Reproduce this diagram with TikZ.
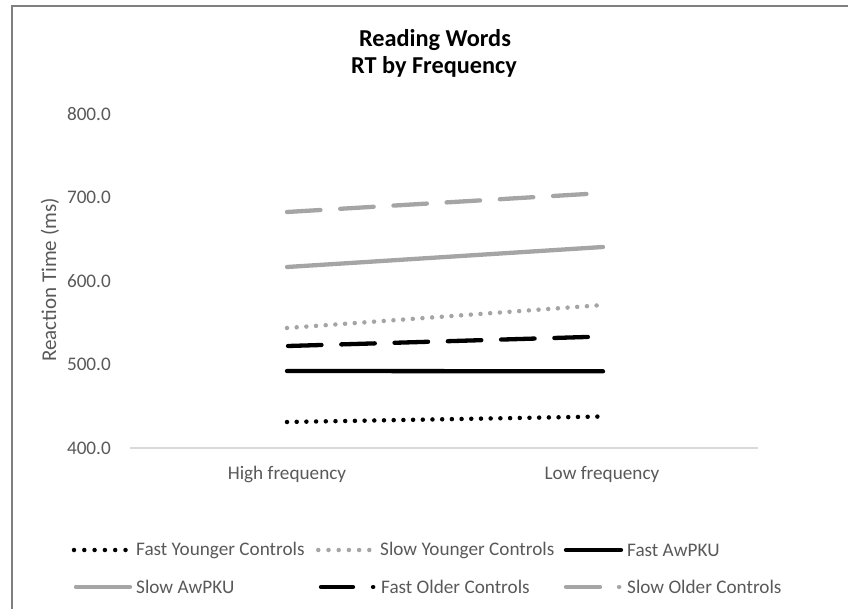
\documentclass[tikz,border=0pt]{standalone}
\usepackage{fontspec}
\setmainfont{Carlito}
\definecolor{txtgray}{HTML}{595959}
\definecolor{lngray}{HTML}{A5A5A5}
\definecolor{axgray}{HTML}{D9D9D9}
\definecolor{framegray}{HTML}{7F7F7F}
\tikzset{
  ser/.style={line width=4.3pt, line cap=round},
  blkser/.style={ser, draw=black},
  gryser/.style={ser, draw=lngray},
  dotser/.style={line width=4.5pt, line cap=round, dash pattern=on 0pt off 9.7pt},
  dashser/.style={dash pattern=on 33.5pt off 19.8pt},
  ticklab/.style={font=\fontsize{19.2}{19}\selectfont, text=txtgray, inner sep=0pt, anchor=east},
  catlab/.style={font=\fontsize{19.2}{19}\selectfont, text=txtgray, inner sep=0pt, anchor=base},
  leglab/.style={font=\fontsize{19.2}{19}\selectfont, text=txtgray, inner sep=0pt, anchor=west},
}
\begin{document}
\begin{tikzpicture}[x=1pt,y=-1pt]
\useasboundingbox (0,0) rectangle (848,609);
% frame (top and left edges visible)
\draw[framegray, line width=1.5pt] (12,609) -- (12,6) -- (848,6);

% title
\node[font=\bfseries\fontsize{24.3}{27}\selectfont, anchor=base, inner sep=0pt] (t1) at (435,47) {Reading Words};
\node[font=\bfseries\fontsize{24.3}{27}\selectfont, anchor=base, inner sep=0pt] (t2) at (434,74) {RT by Frequency};

% y tick labels
\node[ticklab] (y800) at (111,114) {800.0};
\node[ticklab] (y700) at (111,197.5) {700.0};
\node[ticklab] (y600) at (111,281) {600.0};
\node[ticklab] (y500) at (111,364.5) {500.0};
\node[ticklab] (y400) at (111,448) {400.0};

% y axis title
\node[font=\fontsize{21}{21}\selectfont, text=txtgray, rotate=90, inner sep=0pt] (ytitle) at (50,280) {Reaction Time (ms)};

% x axis
\coordinate (axL) at (130,448);
\coordinate (axR) at (758,448);
\draw[axgray, line width=1.5pt] (axL) -- (axR);

% category labels
\node[catlab] (cH) at (287,479) {High frequency};
\node[catlab] (cL) at (602,479) {Low frequency};

% data points
\coordinate (socH) at (287,212);   \coordinate (socL) at (603,193);
\coordinate (saH)  at (287,267);   \coordinate (saL)  at (603,247);
\coordinate (sycH) at (287,328);   \coordinate (sycL) at (603,305);
\coordinate (focH) at (288,346);   \coordinate (focL) at (603,336.5);
\coordinate (faH)  at (287,371);   \coordinate (faL)  at (603,371.3);
\coordinate (fycH) at (287,422);   \coordinate (fycL) at (603,416.5);

% series
\draw[gryser, dashser] (socH) -- (socL);
\draw[gryser] (saH) -- (saL);
\draw[lngray, dotser] (sycH) -- (sycL);
\draw[blkser, dashser] (focH) -- (focL);
\draw[blkser] (faH) -- (faL);
\draw[black, dotser] (fycH) -- (fycL);

% legend row 1
\coordinate (l1a) at (74,550);   \coordinate (l1b) at (125.6,550);
\draw[black, dotser, dash pattern=on 0pt off 10.3pt] (l1a) -- (l1b);
\node[leglab] (lt1) at (136,550) {Fast Younger Controls};

\coordinate (l2a) at (318.3,550); \coordinate (l2b) at (369.4,550);
\draw[lngray, dotser, dash pattern=on 0pt off 10.2pt] (l2a) -- (l2b);
\node[leglab] (lt2) at (380,550) {Slow Younger Controls};

\coordinate (l3a) at (566,550); \coordinate (l3b) at (621,550);
\draw[blkser] (l3a) -- (l3b);
\node[leglab] (lt3) at (627,550) {Fast AwPKU};

% legend row 2
\coordinate (l4a) at (76,587); \coordinate (l4b) at (130,587);
\draw[gryser] (l4a) -- (l4b);
\node[leglab] (lt4) at (136,587) {Slow AwPKU};

\coordinate (l5a) at (321,587); \coordinate (l5b) at (373.3,587);
\draw[blkser, dash pattern=on 32pt off 20pt] (l5a) -- (l5b);
\node[leglab] (lt5) at (381,587) {Fast Older Controls};

\coordinate (l6a) at (566,587); \coordinate (l6b) at (619.3,587);
\draw[gryser, dash pattern=on 34pt off 19pt] (l6a) -- (l6b);
\node[leglab] (lt6) at (627,587) {Slow Older Controls};
\end{tikzpicture}
\end{document}
